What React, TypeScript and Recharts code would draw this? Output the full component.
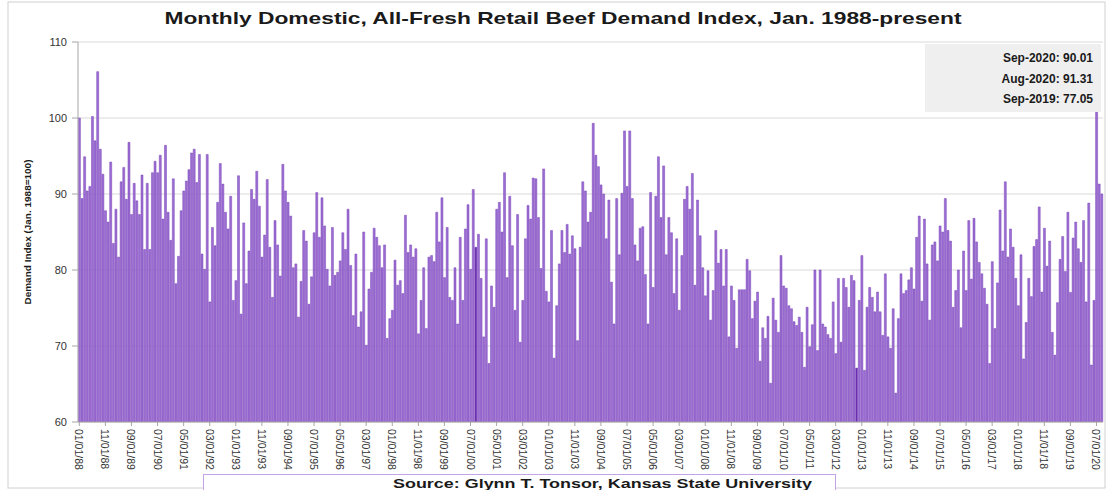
import React from 'react';
import { BarChart, Bar, XAxis, YAxis, CartesianGrid, Cell } from 'recharts';

const y1988 = [100, 89.4, 94.9, 90.4, 91, 100.2, 97, 106.1, 95.9, 92.6, 87.8, 86.3];
const y1989 = [94.2, 83.5, 88, 81.7, 91.6, 93.5, 89.3, 96.8, 87.3, 91.4, 89.1, 87.3];
const y1990 = [92.5, 82.7, 91.4, 82.7, 92.8, 94.3, 92.8, 95.1, 86.7, 96.4, 87.6, 83.9];
const y1991 = [92, 78.2, 81.8, 87.8, 90.4, 91.7, 93.2, 95.4, 95.9, 91.5, 95.2, 82.1];
const y1992 = [80.1, 95.2, 75.8, 85.6, 83.2, 88.9, 94, 91.3, 87.6, 85.4, 89.7, 76];
const y1993 = [78.6, 92.4, 74.2, 86.2, 78.2, 82.5, 90.6, 89.3, 93, 88.4, 81.7, 84.6];
const y1994 = [91.9, 83, 76.4, 86.5, 83.3, 79.2, 93.9, 90.4, 88.9, 87.1, 80.3, 80.8];
const y1995 = [73.8, 78.5, 85.2, 83.8, 75.5, 79.1, 84.9, 90.2, 84.3, 89.5, 85.8, 80.1];
const y1996 = [77.9, 85.6, 79.3, 79.7, 81.2, 84.9, 82.7, 88, 80.6, 74, 82.1, 72.5];
const y1997 = [74.5, 85, 70.1, 77.5, 79.7, 85.5, 84.3, 83.2, 80.3, 83.3, 71, 73.6];
const y1998 = [74.7, 81.3, 78, 78.6, 76.9, 87.2, 82.3, 83.3, 81.7, 82.8, 71.6, 76];
const y1999 = [80.3, 72.3, 81.7, 81.9, 81.1, 87.6, 83.7, 89.5, 79, 85.6, 76.4, 76];
const y2000 = [80.3, 72.9, 84.3, 76, 85.4, 88.6, 80.1, 90.6, 83, 84.7, 78.9, 71.2];
const y2001 = [84.1, 67.7, 77.9, 75.1, 88, 88.9, 85, 92.8, 79, 89.7, 83.2, 74.7];
const y2002 = [87.3, 70.5, 76, 84.1, 88.5, 86.7, 92.1, 92, 86.9, 80.2, 93.3, 77.2];
const y2003 = [75.8, 85.2, 68.4, 75.3, 80.8, 85.2, 82.3, 86, 82.1, 84.5, 82.8, 70.7];
const y2004 = [83, 91.6, 90.4, 86.3, 87.6, 99.3, 95.1, 93.6, 91.2, 90, 84.1, 89.2];
const y2005 = [78.4, 72.9, 89.4, 82, 90.1, 98.3, 91, 98.3, 89.4, 83.3, 81.2, 85.5];
const y2006 = [85.7, 79.4, 72.9, 90.2, 77.7, 89.7, 94.9, 86.9, 93.7, 82, 86.9, 84.9];
const y2007 = [76.9, 84.1, 74.7, 81.9, 89.3, 91, 88, 92.7, 78, 89.2, 84.5, 80.3];
const y2008 = [76.6, 79.9, 73.4, 77.3, 85.2, 80.9, 82.7, 77.9, 82.7, 71.2, 77.9, 76];
const y2009 = [69.7, 77.4, 77.4, 77.4, 81.4, 79.9, 73.6, 75.9, 77.1, 68, 72.4, 71];
const y2010 = [73.9, 65.1, 76.3, 73.4, 71.8, 81.9, 77.9, 77.6, 75.3, 74.9, 73.2, 72.7];
const y2011 = [73.8, 71.8, 67.2, 75.1, 69.9, 72.8, 80, 69.4, 80, 72.9, 72.5, 71.5];
const y2012 = [71, 75.8, 69, 78.9, 70.5, 78.9, 77.7, 75.1, 79.3, 78.6, 67.1, 76];
const y2013 = [81.9, 66.8, 75.1, 77.7, 76.4, 74.5, 77.1, 74.5, 71.4, 79.5, 71.2, 69.7];
const y2014 = [74.9, 63.8, 73.6, 79.5, 76.9, 77.3, 78.7, 80.3, 77.5, 84.3, 87.1, 75.9];
const y2015 = [86.7, 80.8, 73.4, 83.3, 83.7, 81.2, 85.8, 85, 89.4, 85.2, 83.8, 75.1];
const y2016 = [77.3, 80, 72.4, 82.5, 77.3, 86.5, 78.8, 86.8, 83.7, 81, 79.5, 77.6];
const y2017 = [75.5, 67.7, 81.1, 72.3, 78.3, 87.9, 82.5, 91.6, 81.7, 85.4, 83, 78.9];
const y2018 = [75.3, 82, 68.3, 73.1, 78.9, 76.5, 83.1, 84, 88.3, 77.1, 85.5, 80.5];
const y2019 = [83.8, 71.8, 68.8, 75.7, 81.4, 84.4, 79.8, 87.6, 77.05, 84.2, 86.3, 82.8];
const y2020 = [81, 86.5, 75.8, 88.8, 67.5, 76, 101.1, 91.31, 90.01];

const yearlyValues = [
  y1988, y1989, y1990, y1991, y1992, y1993, y1994, y1995, y1996, y1997, y1998,
  y1999, y2000, y2001, y2002, y2003, y2004, y2005, y2006, y2007, y2008, y2009,
  y2010, y2011, y2012, y2013, y2014, y2015, y2016, y2017, y2018, y2019, y2020,
];
const firstYear = 1988;
const darkMonths = ['09/01/00', '11/01/12'];
const yTicks = [60, 70, 80, 90, 100, 110];
const legendLines = ['Sep-2020: 90.01', 'Aug-2020: 91.31', 'Sep-2019: 77.05'];
const titleText = 'Monthly Domestic, All-Fresh Retail Beef Demand Index, Jan. 1988-present';
const sourceText = 'Source: Glynn T. Tonsor, Kansas State University';
const yLabel = 'Demand Index (Jan. 1988=100)';

const pad = (n: number) => String(n).padStart(2, '0');
const data = yearlyValues.flatMap((vals, yi) =>
  vals.map((v, mi) => ({
    label: `${pad(mi + 1)}/01/${pad((firstYear + yi) % 100)}`,
    value: v,
  }))
);

const FONT = "'Liberation Sans', Arial, sans-serif";
const BAR_FILL = '#9c6dd2';
const BAR_EDGE = '#7a47ba';

const XTick = (props: any) => {
  const { x, y, payload } = props;
  return (
    <text
      transform={`translate(${x},${y + 1}) rotate(90)`}
      textAnchor="start"
      dominantBaseline="central"
      fontSize={10.5}
      fontFamily={FONT}
      fill="#333333"
    >
      {payload.value}
    </text>
  );
};

const YTick = (props: any) => {
  const { x, y, payload } = props;
  return (
    <text
      x={x}
      y={y}
      textAnchor="end"
      dominantBaseline="central"
      fontSize={11}
      fontFamily={FONT}
      fill="#333333"
    >
      {payload.value}
    </text>
  );
};

export default function App() {
  return (
    <div style={{ position: 'absolute', left: 0, top: 0, width: 1107, height: 490, background: '#fff' }}>
      <BarChart
        width={1107}
        height={490}
        data={data}
        margin={{ top: 42, right: 4, left: 0, bottom: 0 }}
        barCategoryGap="16%"
      >
        <CartesianGrid vertical={false} stroke="#d9d9d9" />
        <XAxis
          dataKey="label"
          interval={9}
          height={68}
          tick={<XTick />}
          tickSize={4}
          stroke="#a6a6a6"
        />
        <YAxis
          domain={[60, 110]}
          ticks={yTicks}
          width={78}
          tickSize={6}
          tickMargin={5}
          stroke="#a6a6a6"
          tick={<YTick />}
          allowDataOverflow
        />
        <Bar dataKey="value" fill={BAR_FILL} stroke={BAR_EDGE} strokeWidth={0.5} isAnimationActive={false}>
          {data.map((d) => (
            <Cell key={d.label} fill={darkMonths.includes(d.label) ? '#6a2db0' : BAR_FILL} />
          ))}
        </Bar>
      </BarChart>
      <svg
        width={1107}
        height={490}
        style={{ position: 'absolute', left: 0, top: 0, pointerEvents: 'none' }}
      >
        <rect x={8} y={2} width={1097} height={486} fill="none" stroke="#d0d0d0" />
        <text
          x={563}
          y={24}
          textAnchor="middle"
          fontSize={17}
          fontWeight="bold"
          fontFamily={FONT}
          fill="#1a1a1a"
          textLength={797}
          lengthAdjust="spacingAndGlyphs"
        >
          {titleText}
        </text>
        <text
          transform="translate(31,232) rotate(-90)"
          textAnchor="middle"
          fontSize={9.5}
          fontWeight="bold"
          fontFamily={FONT}
          fill="#1a1a1a"
          textLength={145}
          lengthAdjust="spacingAndGlyphs"
        >
          {yLabel}
        </text>
        <rect x={925} y={44} width={176} height={68} fill="#efefef" />
        {legendLines.map((t, i) => (
          <text
            key={t}
            x={1093}
            y={62 + i * 20.5}
            textAnchor="end"
            fontSize={12}
            fontWeight="bold"
            fontFamily={FONT}
            fill="#1a1a1a"
          >
            {t}
          </text>
        ))}
        <rect x={203.5} y={474.5} width={632} height={20} fill="#fff" stroke="#c4a3e6" />
        <text
          x={393}
          y={488}
          textAnchor="start"
          fontSize={12.5}
          fontWeight="bold"
          fontFamily={FONT}
          fill="#1a1a1a"
          textLength={419}
          lengthAdjust="spacingAndGlyphs"
        >
          {sourceText}
        </text>
      </svg>
    </div>
  );
}
